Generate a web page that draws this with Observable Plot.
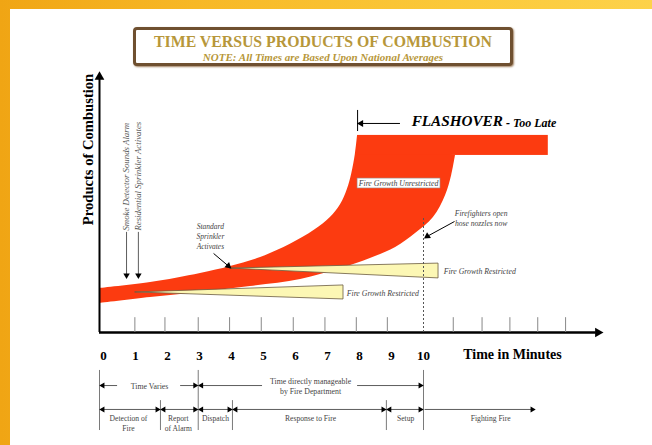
<!DOCTYPE html>
<html><head><meta charset="utf-8">
<script src="https://cdn.jsdelivr.net/npm/d3@7"></script>
<script src="https://cdn.jsdelivr.net/npm/@observablehq/plot@0.6"></script>
<style>
body{margin:0;width:652px;height:445px;overflow:hidden;position:relative;background:linear-gradient(90deg,#f0a514 0%,#f7b826 30%,#fbc93a 70%,#fdd24a 100%);font-family:"Liberation Serif",serif}
#panel{position:absolute;left:10px;top:9px;width:642px;height:436px;background:#fff}
#titlebox{position:absolute;left:133px;top:27px;width:374px;height:33px;border:3px solid #6f5030;border-radius:4px;box-shadow:1px 1px 2px #a08060;text-align:center;background:#fff}
#t1{font-weight:bold;font-size:15.8px;color:#b7973a;line-height:17px;margin-top:3px}
#t2{font-weight:bold;font-style:italic;font-size:11px;color:#b7973a;line-height:12px;margin-top:1px}
#chart{position:absolute;left:0;top:0}
</style></head><body>
<div id="panel"></div>
<div id="titlebox"><div id="t1">TIME VERSUS PRODUCTS OF COMBUSTION</div><div id="t2">NOTE: All Times are Based Upon National Averages</div></div>
<div id="chart"></div>
<script>
// ---- data (time in minutes, products of combustion in arbitrary units 0-100) ----
const minuteLabels = [0,1,2,3,4,5,6,7,8,9,10];
const tickPositions = [0.98,1.92,2.96,3.94,4.93,5.93,6.92,7.9,8.87,10.93,11.83,12.7,13.57,14.44];
const upperEdge = [[-0.125,16.9],[1.47,19.2],[3.03,22.7],[3.97,25.4],[4.91,28.8],[5.84,33.9],[6.6,39.4],[7.09,44.2],[7.41,49.2],[7.62,55.0],[7.76,61.2],[7.87,68.5],[7.94,75.8]];
const lowerEdge = [[-0.125,11.2],[1.47,13.5],[3.03,15.4],[4.59,17.7],[6.16,20.4],[7.41,24.6],[8.34,28.5],[9.13,32.7],[9.75,38.1],[10.31,44.2],[10.69,52.7],[10.88,60.4],[11.0,68.1]];
const flashoverBar = [{start:7.94,end:13.9,low:68.1,high:75.8}];
const wedgeResidential = {tip:[1.0,15.4], top:[7.5,18.1], bottom:[7.5,12.7]};
const wedgeStandard = {tip:[3.97,24.6], top:[10.47,26.5], bottom:[10.47,20.8]};
const detectorNames = ["Smoke Detector Sounds Alarm","Residential Sprinkler Activates"];
const detectorTimes = [0.72,1.09];
const phaseNames = ["Detection of\nFire","Report\nof Alarm","Dispatch","Response to Fire","Setup","Fighting Fire"];
const phaseStarts = [-0.125,1.78,2.96,4.03,8.84,10.0];
const phaseEnds = [1.78,2.96,4.03,8.84,10.0,13.5];
const phaseLabelX = [0.78,2.34,3.5,6.47,9.44,12.1];
const spanNames = ["Time Varies","Time directly manageable\nby Fire Department"];
const spanStarts = [-0.125,2.96];
const spanEnds = [2.96,10.0];
const spanGaps = [[0.44,2.41],[4.97,7.94]];
const spanLabelX = [1.44,6.47];

const RED = "#fc3b10", PALE = "#fcf7b4", GREY = "#7a7a7a";
const FONT = "Liberation Serif, Times New Roman, serif";

function wedgeData(w){ return [{a:w.tip,b:w.tip},{a:w.bottom,b:w.top}]; }
function heads(points, rot, opts={}){
  return Plot.dot(points, {x:d=>d[0], y:d=>d[1], symbol:"triangle", r: opts.r ?? 2.2, fill: opts.fill ?? "#000", stroke:"none", rotate: rot});
}

const rowV1 = -20.4, rowV2 = -29.6;
const allBounds = [[-0.125,-14.6],[2.96,-14.6],[10.0,-14.6],[1.78,-26.2],[4.03,-26.2],[8.84,-26.2]];

const marks = [
  // red unrestricted growth band
  Plot.area(d3.range(upperEdge.length), {x1:i=>lowerEdge[i][0], y1:i=>lowerEdge[i][1], x2:i=>upperEdge[i][0], y2:i=>upperEdge[i][1], fill:RED, curve:"catmull-rom"}),
  Plot.rect(flashoverBar, {x1:"start", x2:"end", y1:"low", y2:"high", fill:RED}),
  // restricted wedges
  Plot.area(wedgeData(wedgeResidential), {x1:d=>d.a[0], y1:d=>d.a[1], x2:d=>d.b[0], y2:d=>d.b[1], fill:PALE, stroke:"#6a5a40", strokeWidth:0.8}),
  Plot.area(wedgeData(wedgeStandard), {x1:d=>d.a[0], y1:d=>d.a[1], x2:d=>d.b[0], y2:d=>d.b[1], fill:PALE, stroke:"#6a5a40", strokeWidth:0.8}),
  Plot.text(["Fire Growth Restricted"], {x:wedgeResidential.top[0]+0.1, y:15.0, textAnchor:"start", fontStyle:"italic", fontSize:7.8, fill:"#444"}),
  Plot.text(["Fire Growth Restricted"], {x:wedgeStandard.top[0]+0.16, y:23.5, textAnchor:"start", fontStyle:"italic", fontSize:7.8, fill:"#444"}),
  // unrestricted label box
  Plot.rect([{a:7.94,b:10.53,c:55.4,d:59.2}], {x1:"a", x2:"b", y1:"c", y2:"d", fill:"#fff", stroke:"#999", strokeWidth:0.6}),
  Plot.text(["Fire Growth Unrestricted"], {x:9.22, y:57.3, fontStyle:"italic", fontSize:7.8, fill:"#444"}),
  // axes
  Plot.ruleX([-0.125], {y1:0, y2:98.5, strokeWidth:2}),
  Plot.ruleY([0], {x1:-0.125, x2:15.4, strokeWidth:2.5}),
  heads([[-0.125,98.3]], 0, {r:3.6}),
  heads([[15.45,0]], 90, {r:3.6}),
  Plot.ruleX(tickPositions, {y1:0, y2:5.7, stroke:"#888", strokeWidth:1}),
  Plot.ruleX([10], {y1:0, y2:44.6, stroke:"#555", strokeDasharray:"2,2", strokeWidth:1}),
  Plot.text(minuteLabels, {x:d=>d, y:-8.85, text:d=>String(d), fontWeight:"bold", fontSize:13}),
  Plot.text(["Time in Minutes"], {x:12.78, y:-8.5, fontWeight:"bold", fontSize:14}),
  Plot.text(["Products of Combustion"], {x:-0.47, y:70.4, rotate:-90, fontWeight:"bold", fontSize:14.6}),
  // detector annotations
  Plot.text(detectorNames, {x:(d,i)=>detectorTimes[i], y:39.2, rotate:-90, textAnchor:"start", fontStyle:"italic", fontSize:8.8, fill:"#555"}),
  Plot.ruleX(detectorTimes, {y1:22, y2:38.5, stroke:"#333", strokeWidth:0.8}),
  heads(detectorTimes.map(t=>[t,22]), 180, {r:2.4}),
  // standard sprinkler
  Plot.text(["Standard\nSprinkler\nActivates"], {x:3.34, y:37.3, fontStyle:"italic", fontSize:7.5, fill:"#444", lineHeight:1.35}),
  Plot.link([{x1:3.44,y1:30.4,x2:3.9,y2:25.6}], {x1:"x1",y1:"y1",x2:"x2",y2:"y2", stroke:"#000", strokeWidth:1}),
  heads([[3.9,25.6]], 131, {r:2.6}),
  // firefighters
  Plot.text(["Firefighters open\nhose nozzles now"], {x:11.8, y:44.0, fontStyle:"italic", fontSize:7.6, fill:"#444", lineHeight:1.3}),
  Plot.link([{x1:10.97,y1:42.7,x2:10.12,y2:37.0}], {x1:"x1",y1:"y1",x2:"x2",y2:"y2", stroke:"#000", strokeWidth:1}),
  heads([[10.12,37.0]], 236, {r:2.6}),
  // flashover
  Plot.ruleY([80.4], {x1:7.94, x2:9.28, stroke:"#000", strokeWidth:1}),
  Plot.ruleX([7.94], {y1:77.3, y2:85.4, stroke:"#000", strokeWidth:1}),
  heads([[8.05,80.4]], 270, {r:2.6}),
  Plot.text(["FLASHOVER"], {x:9.63, y:81.2, textAnchor:"start", fontWeight:"bold", fontStyle:"italic", fontSize:15.2}),
  Plot.text(["- Too Late"], {x:12.58, y:80.6, textAnchor:"start", fontWeight:"bold", fontStyle:"italic", fontSize:12}),
  // timeline boundaries
  Plot.ruleX(allBounds, {x:d=>d[0], y1:d=>d[1], y2:-37.7, stroke:GREY, strokeWidth:1}),
  // row 1 spans
  Plot.ruleY(spanNames.flatMap((n,i)=>[[spanStarts[i]+0.05,spanGaps[i][0]],[spanGaps[i][1],spanEnds[i]-0.05]]), {y:rowV1, x1:d=>d[0], x2:d=>d[1], stroke:"#333", strokeWidth:0.8}),
  heads(spanStarts.map(t=>[t+0.1,rowV1]), 270, {r:2.2}),
  heads(spanEnds.map(t=>[t-0.1,rowV1]), 90, {r:2.2}),
  Plot.text(spanNames, {x:(d,i)=>spanLabelX[i], y:rowV1, fontSize:7.8, fill:"#444", lineHeight:1.25}),
  // row 2 phases
  Plot.ruleY(phaseNames.map((n,i)=>[phaseStarts[i]+0.05,phaseEnds[i]-0.05]), {y:rowV2, x1:d=>d[0], x2:d=>d[1], stroke:"#333", strokeWidth:0.8}),
  heads(phaseStarts.slice(0,5).map(t=>[t+0.1,rowV2]), 270, {r:2.2}),
  heads(phaseEnds.map(t=>[t-0.1,rowV2]), 90, {r:2.2}),
  Plot.text(phaseNames, {x:(d,i)=>phaseLabelX[i], y:-31.2, lineAnchor:"top", fontSize:7.6, fill:"#444", lineHeight:1.3})
];

const chart = Plot.plot({
  width:652, height:445, margin:0,
  x:{domain:[0,10], range:[103,423], axis:null},
  y:{domain:[0,100], range:[332,72], axis:null},
  style:{background:"transparent", fontFamily:FONT, overflow:"visible"},
  marks
});
document.getElementById("chart").appendChild(chart);
</script>
</body></html>
